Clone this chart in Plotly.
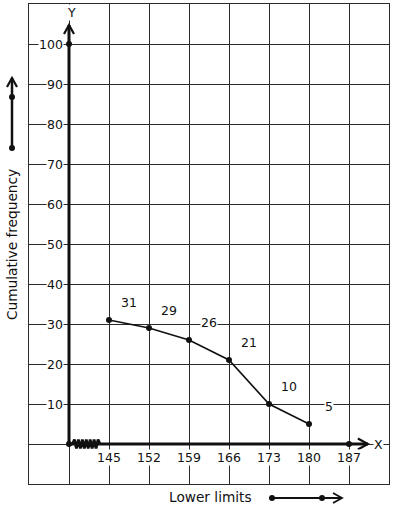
import plotly.graph_objects as go

# ---- data ----
lower_limits = [145, 152, 159, 166, 173, 180]
cum_freq = [31, 29, 26, 21, 10, 5]
x_tick_labels = [145, 152, 159, 166, 173, 180, 187]
y_tick_labels = [10, 20, 30, 40, 50, 60, 70, 80, 90, 100]
origin_x = 138
extra_points_x = [138, 187, 138]
extra_points_y = [0, 0, 100]

# ---- layout geometry ----
W, H = 394, 510
ML, MR, MT, MB = 29, 5, 4, 26
PW, PH = W - ML - MR, H - MT - MB
XR = [131, 194]
YR = [-10, 110]
XS = PW / (XR[1] - XR[0])   # px per x unit
YS = PH / (YR[1] - YR[0])   # px per y unit

def P(px, py):
    """pixel -> paper coords"""
    return ((px - ML) / PW, (H - MB - py) / PH)

INK = "#111111"
GRID = "#2a2a2a"
FONT = "DejaVu Sans"

fig = go.Figure()

# ogive
fig.add_trace(go.Scatter(
    x=lower_limits, y=cum_freq, mode="lines+markers",
    line=dict(color=INK, width=1.6),
    marker=dict(color=INK, size=6),
    hoverinfo="skip", showlegend=False))

fig.add_trace(go.Scatter(
    x=extra_points_x, y=extra_points_y, mode="markers",
    marker=dict(color=INK, size=6), cliponaxis=False,
    hoverinfo="skip", showlegend=False))

# zigzag (axis break)
zx0 = origin_x + 3.5 / XS
zx1 = origin_x + 31 / XS
nseg = 14
amp = 4.5 / YS
zz_x = [zx0 + (zx1 - zx0) * i / nseg for i in range(nseg + 1)]
zz_y = [0] + [(amp if i % 2 else -amp) for i in range(1, nseg)] + [0]
fig.add_trace(go.Scatter(
    x=zz_x, y=zz_y, mode="lines", line=dict(color=INK, width=2.8),
    hoverinfo="skip", showlegend=False))

shapes = []
# axes
y_tip = 104.75
x_tip = 190.3
shapes.append(dict(type="line", xref="x", yref="y", x0=origin_x, y0=0, x1=origin_x, y1=y_tip,
                   line=dict(color=INK, width=3)))
shapes.append(dict(type="line", xref="x", yref="y", x0=origin_x, y0=0, x1=x_tip, y1=0,
                   line=dict(color=INK, width=3)))
ax_dx, ax_dy = 5 / XS, 9 / YS
shapes.append(dict(type="path", xref="x", yref="y",
                   path=f"M {origin_x-ax_dx},{y_tip-ax_dy} L {origin_x},{y_tip} L {origin_x+ax_dx},{y_tip-ax_dy}",
                   line=dict(color=INK, width=2.2)))
bx_dx, bx_dy = 10 / XS, 5.5 / YS
shapes.append(dict(type="path", xref="x", yref="y",
                   path=f"M {x_tip-bx_dx},{bx_dy} L {x_tip},0 L {x_tip-bx_dx},{-bx_dy}",
                   line=dict(color=INK, width=2.2)))

# left arrow (outside plot)
a0 = P(12, 148); a1 = P(12, 78)
shapes.append(dict(type="line", xref="paper", yref="paper", x0=a0[0], y0=a0[1], x1=a1[0], y1=a1[1],
                   line=dict(color=INK, width=2.5)))
l1 = P(7, 87); l2 = P(17, 87)
shapes.append(dict(type="path", xref="paper", yref="paper",
                   path=f"M {l1[0]},{l1[1]} L {a1[0]},{a1[1]} L {l2[0]},{l2[1]}",
                   line=dict(color=INK, width=2.2)))
# bottom arrow
b0 = P(272, 498); b1 = P(342, 498)
shapes.append(dict(type="line", xref="paper", yref="paper", x0=b0[0], y0=b0[1], x1=b1[0], y1=b1[1],
                   line=dict(color=INK, width=2)))
m1 = P(333, 493); m2 = P(333, 503)
shapes.append(dict(type="path", xref="paper", yref="paper",
                   path=f"M {m1[0]},{m1[1]} L {b1[0]},{b1[1]} L {m2[0]},{m2[1]}",
                   line=dict(color=INK, width=1.8)))
r = 3
for (cx, cy) in [(12, 148), (12, 97), (272, 498), (322, 498)]:
    c0 = P(cx - r, cy + r); c1 = P(cx + r, cy - r)
    shapes.append(dict(type="circle", xref="paper", yref="paper",
                       x0=c0[0], y0=c0[1], x1=c1[0], y1=c1[1],
                       fillcolor=INK, line=dict(color=INK, width=0)))

annotations = []
# y tick labels
for v in y_tick_labels:
    annotations.append(dict(x=origin_x, y=v, xref="x", yref="y", text=str(v), showarrow=False,
                            xanchor="right", yanchor="middle", xshift=-5,
                            bgcolor="white", borderpad=0,
                            font=dict(family=FONT, size=12.5, color=INK)))
# x tick labels
for v in x_tick_labels:
    annotations.append(dict(x=v, y=0, xref="x", yref="y", text=str(v), showarrow=False,
                            xanchor="center", yanchor="middle", yshift=-13,
                            bgcolor="white", borderpad=0,
                            font=dict(family=FONT, size=12.5, color=INK)))
# point labels
for xv, yv in zip(lower_limits, cum_freq):
    annotations.append(dict(x=xv, y=yv, xref="x", yref="y", text=str(yv), showarrow=False,
                            xanchor="center", yanchor="middle", xshift=20, yshift=18,
                            bgcolor="white", borderpad=0,
                            font=dict(family=FONT, size=12.5, color=INK)))
# axis letters
annotations.append(dict(x=192.1, y=0, xref="x", yref="y", text="X", showarrow=False,
                        xanchor="center", yanchor="middle", bgcolor="white", borderpad=0,
                        font=dict(family=FONT, size=12.5, color=INK)))
annotations.append(dict(x=origin_x, y=108, xref="x", yref="y", text="Y", showarrow=False,
                        xanchor="center", yanchor="middle", xshift=2, bgcolor="white", borderpad=0,
                        font=dict(family=FONT, size=12.5, color=INK)))
# axis titles
t = P(210, 497)
annotations.append(dict(x=t[0], y=t[1], xref="paper", yref="paper", text="Lower limits",
                        showarrow=False, xanchor="center", yanchor="middle",
                        font=dict(family=FONT, size=13.7, color=INK)))
t = P(12, 245)
annotations.append(dict(x=t[0], y=t[1], xref="paper", yref="paper", text="Cumulative frequency",
                        showarrow=False, xanchor="center", yanchor="middle", textangle=-90,
                        font=dict(family=FONT, size=13.7, color=INK)))

fig.update_layout(
    width=W, height=H, autosize=False,
    margin=dict(l=ML, r=MR, t=MT, b=MB, pad=0),
    paper_bgcolor="white", plot_bgcolor="white",
    shapes=shapes, annotations=annotations,
    xaxis=dict(range=XR, tick0=131, dtick=7, showgrid=True, gridcolor=GRID, gridwidth=1.3,
               showticklabels=False, ticks="", zeroline=False,
               showline=True, mirror=True, linecolor=GRID, linewidth=1.3, fixedrange=True),
    yaxis=dict(range=YR, tick0=-10, dtick=10, showgrid=True, gridcolor=GRID, gridwidth=1.3,
               showticklabels=False, ticks="", zeroline=False,
               showline=True, mirror=True, linecolor=GRID, linewidth=1.3, fixedrange=True),
)

fig.write_html("out.html", config={"displayModeBar": False},
               post_script="document.body.style.margin='0px';document.body.style.overflow='hidden';")
